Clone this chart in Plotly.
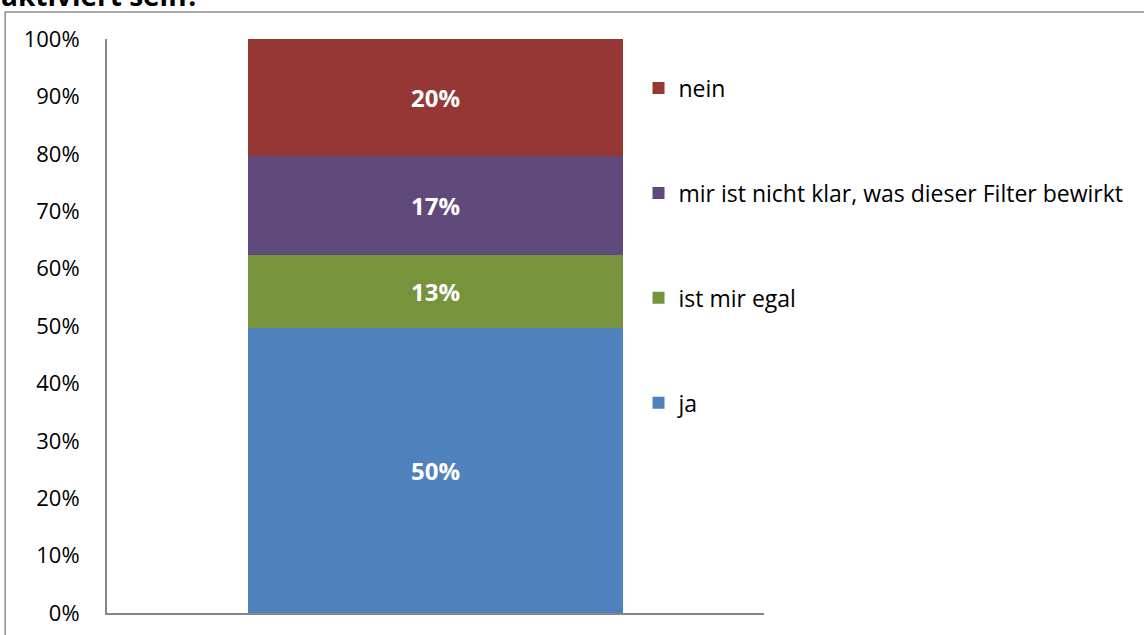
import plotly.graph_objects as go

# Umfrage: Filter standardmäßig aktiviert?
kategorie = [""]
antworten = ["ja", "ist mir egal", "mir ist nicht klar, was dieser Filter bewirkt", "nein"]
anteile = [49.7, 12.7, 17.3, 20.3]
farben = ["#4F81BD", "#77933C", "#604A7B", "#953735"]
y_ticks = [0, 10, 20, 30, 40, 50, 60, 70, 80, 90, 100]
y_ticktext = [f"{v}%" for v in y_ticks]

fig = go.Figure()
for i, (name, wert, farbe) in enumerate(zip(antworten, anteile, farben)):
    fig.add_trace(go.Bar(
        x=kategorie, y=[wert], name=name,
        marker_color=farbe, marker_line_width=0,
        texttemplate="<b>%{y:.0f}%</b>", textposition="inside",
        insidetextanchor="middle",
        textfont=dict(color="white", size=24, family="Open Sans"),
        legendgroup=name, legendrank=len(antworten) - i,
    ))

fig.update_layout(
    barmode="stack",
    bargap=0.428,
    width=1144, height=635,
    margin=dict(l=107, r=380, t=39, b=22),
    plot_bgcolor="white", paper_bgcolor="white",
    font=dict(family="Open Sans", size=22, color="black"),
    showlegend=True,
    legend=dict(
        traceorder="grouped", tracegroupgap=72,
        x=0.809, xanchor="left", y=0.952, yanchor="top",
        font=dict(size=23), bgcolor="rgba(0,0,0,0)",
    ),
)
fig.update_yaxes(
    range=[0, 100], tickvals=y_ticks, ticktext=y_ticktext,
    showgrid=False, zeroline=False, automargin=False,
    showline=True, linecolor="#868686", linewidth=2,
    ticks="", ticklabelstandoff=21,
)
fig.update_xaxes(
    showline=True, linecolor="#868686", linewidth=2, automargin=False,
    showticklabels=False, ticks="", showgrid=False,
)

# Rahmen des Diagrammbereichs
fig.add_shape(type="rect", xref="paper", yref="paper",
              x0=-0.155, x1=1.6, y0=-0.1, y1=1.047,
              line=dict(color="#8C8C8C", width=1.5), layer="below")

# Titel (oben abgeschnitten)
fig.add_annotation(text="<b>aktiviert sein?</b>", xref="paper", yref="paper",
                   x=-0.165, y=1.040, xanchor="left", yanchor="bottom",
                   showarrow=False, font=dict(size=28, family="Open Sans"))

# Seitenrand entfernen, damit die Figur bei 0,0 beginnt
fig.write_html("out.html", config={"displayModeBar": False},
               post_script="document.body.style.margin='0';")
